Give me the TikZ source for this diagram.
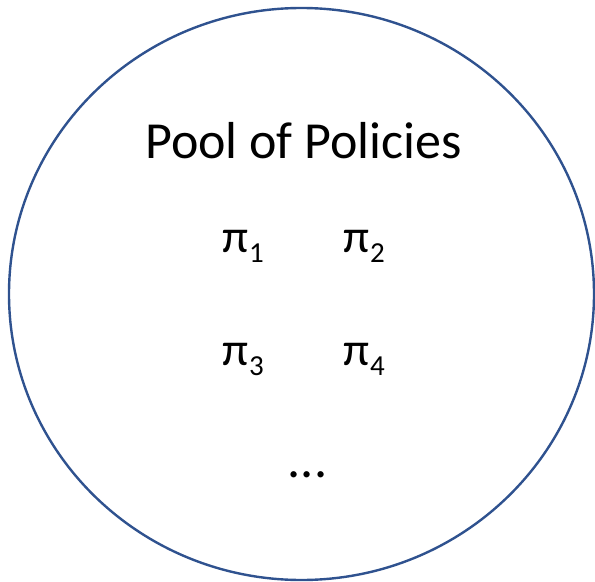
\documentclass[tikz,border=0pt]{standalone}
\usepackage{fontspec}
\setmainfont{Carlito}
\definecolor{ringblue}{HTML}{2F528F}
\newcommand{\polsym}[1]{\fontsize{47bp}{56bp}\selectfont π\kern1bp\raisebox{-10bp}{\fontsize{29bp}{34bp}\selectfont #1}}
\tikzset{
  ring/.style={draw=ringblue, line width=2.4bp},
  title/.style={inner sep=0pt, anchor=base, font=\fontsize{52bp}{60bp}\selectfont},
  pol/.style={inner sep=0pt, anchor=base west},
  dots/.style={inner sep=0pt, anchor=base, font=\fontsize{52bp}{60bp}\selectfont}
}
\begin{document}
\begin{tikzpicture}[x=1bp, y=-1bp]
\useasboundingbox (0,0) rectangle (595,582);
\draw[ring] (301.5,294) ellipse [x radius=292.5, y radius=286];
\node[title] (t) at (303.5,159) {Pool of Policies};
\node[pol] (p1) at (222,252) {\polsym{1}};
\node[pol] (p2) at (343,252) {\polsym{2}};
\node[pol] (p3) at (222,365) {\polsym{3}};
\node[pol] (p4) at (343,365) {\polsym{4}};
\node[dots] (d) at (307.5,477) {...};
\end{tikzpicture}
\end{document}
